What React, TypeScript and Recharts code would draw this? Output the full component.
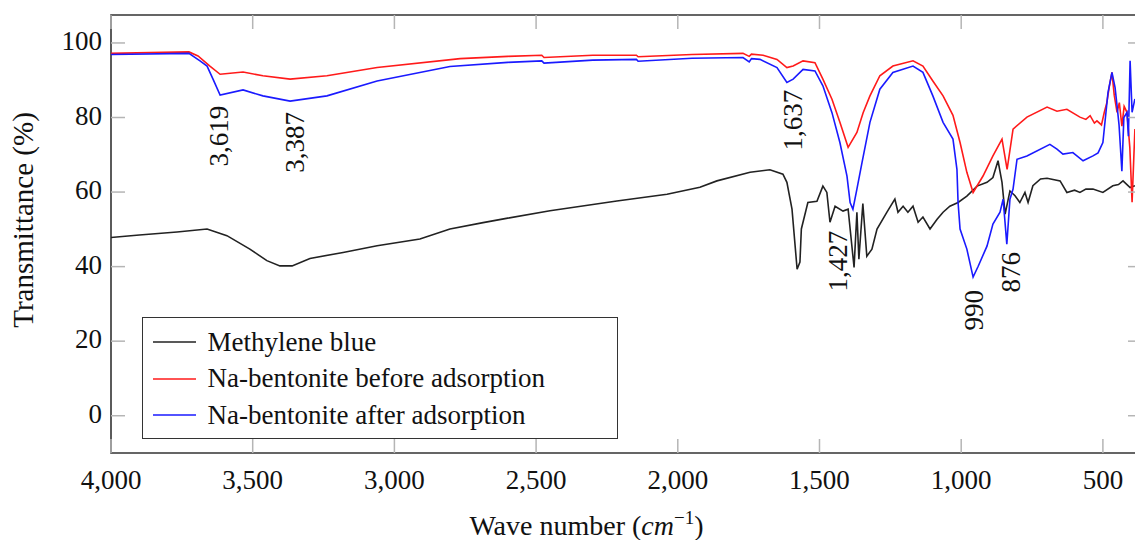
import { LineChart, Line, XAxis, YAxis, Legend, ReferenceArea, ReferenceDot } from "recharts"

const WIDTH = 1150
const HEIGHT = 540
const MARGIN = { top: 15, right: 8, bottom: 0, left: 11 }
const Y_AXIS_WIDTH = 100
const X_AXIS_HEIGHT = 87
const PLOT_TOP = MARGIN.top
const PLOT_BOTTOM = HEIGHT - MARGIN.bottom - X_AXIS_HEIGHT
const PLOT_LEFT = MARGIN.left + Y_AXIS_WIDTH
const PLOT_RIGHT = WIDTH - MARGIN.right
const TICK_LEN = 14
const FONT = '"Liberation Serif", "Times New Roman", serif'
const TEXT = "#111"

const waveDomain = [362, 4000]
const transDomain = [-10, 107.5]
const waveTicks = [4000, 3500, 3000, 2500, 2000, 1500, 1000, 500]
const transTicks = [0, 20, 40, 60, 80, 100]

// Methylene blue
const mbWave = [4000, 3900, 3767, 3661, 3591, 3510, 3450, 3404, 3361, 3298, 3181, 3061, 2910, 2804, 2687, 2600, 2451, 2215, 2038, 1922, 1862, 1745, 1675, 1629, 1615, 1597, 1579, 1569, 1564, 1541, 1509, 1488, 1474, 1463, 1445, 1417, 1399, 1378, 1368, 1361, 1347, 1333, 1315, 1297, 1262, 1234, 1223, 1205, 1188, 1170, 1152, 1135, 1110, 1085, 1064, 1040, 1011, 980, 944, 909, 888, 870, 856, 845, 828, 810, 793, 775, 764, 747, 720, 697, 651, 627, 600, 581, 560, 535, 500, 465, 445, 429, 404, 387]
const mbT = [47.8, 48.5, 49.3, 50.1, 48.3, 44.7, 41.6, 40.2, 40.2, 42.2, 43.8, 45.6, 47.4, 50.1, 51.8, 53.0, 55.0, 57.6, 59.4, 61.3, 63.0, 65.3, 66.0, 64.8, 62.6, 55.4, 39.3, 41.2, 50.1, 57.2, 57.5, 61.6, 59.9, 51.9, 56.2, 54.9, 55.4, 39.8, 54.6, 42.0, 56.9, 42.8, 44.7, 50.1, 54.6, 58.1, 54.6, 56.2, 54.6, 56.2, 51.9, 53.3, 50.1, 52.7, 54.6, 56.2, 57.2, 58.9, 61.6, 62.6, 63.9, 68.4, 62.6, 54.1, 60.3, 59.0, 57.2, 59.9, 57.2, 61.7, 63.5, 63.7, 63.0, 59.9, 60.5, 59.9, 60.8, 60.8, 59.9, 61.7, 62.0, 63.0, 61.2, 61.7]

// Na-bentonite before adsorption
const beforeWave = [4000, 3725, 3693, 3651, 3615, 3534, 3464, 3368, 3238, 3061, 2768, 2600, 2480, 2472, 2300, 2146, 2140, 1950, 1770, 1748, 1740, 1699, 1650, 1615, 1593, 1558, 1516, 1488, 1456, 1428, 1399, 1368, 1346, 1322, 1287, 1241, 1170, 1135, 1100, 1064, 1029, 1004, 980, 958, 923, 888, 856, 838, 817, 768, 697, 662, 627, 581, 560, 545, 530, 521, 505, 495, 486, 478, 468, 460, 450, 442, 433, 425, 415, 405, 397, 387]
const beforeT = [97.2, 97.6, 96.5, 93.8, 91.6, 92.2, 91.2, 90.3, 91.2, 93.4, 95.8, 96.4, 96.7, 96.1, 96.7, 96.7, 96.3, 96.9, 97.2, 96.4, 97.0, 96.7, 95.6, 93.4, 93.8, 95.2, 94.7, 90.3, 84.9, 78.7, 72.0, 76.0, 81.3, 85.8, 91.2, 93.8, 95.2, 93.8, 89.8, 85.8, 80.6, 73.3, 65.3, 59.9, 64.3, 69.7, 74.2, 66.1, 76.9, 80.1, 82.8, 81.7, 82.2, 80.1, 79.5, 80.5, 78.5, 79.1, 78.0, 81.4, 84.0, 88.0, 92.1, 86.0, 81.4, 84.0, 77.7, 83.0, 81.4, 72.0, 57.3, 76.9]

// Na-bentonite after adsorption
const afterWave = [4000, 3725, 3686, 3661, 3640, 3615, 3534, 3464, 3368, 3238, 3061, 2804, 2600, 2480, 2472, 2300, 2146, 2140, 1950, 1770, 1748, 1740, 1710, 1650, 1615, 1593, 1558, 1516, 1488, 1456, 1428, 1403, 1392, 1382, 1368, 1350, 1322, 1287, 1241, 1170, 1135, 1100, 1064, 1029, 1015, 1011, 1004, 980, 958, 940, 909, 888, 863, 852, 839, 828, 817, 803, 768, 687, 662, 641, 606, 570, 535, 517, 500, 482, 468, 457, 450, 443, 433, 426, 415, 410, 404, 397, 387]
const afterT = [96.9, 97.2, 95.2, 93.8, 90.3, 86.0, 87.4, 85.8, 84.4, 85.8, 89.8, 93.7, 94.8, 95.2, 94.6, 95.4, 95.6, 95.1, 95.9, 96.1, 94.9, 95.8, 95.6, 93.4, 89.4, 90.3, 92.9, 92.5, 88.5, 81.3, 73.3, 64.3, 57.2, 55.4, 60.8, 67.9, 78.7, 87.6, 92.1, 93.8, 92.1, 85.8, 78.7, 74.2, 66.1, 57.2, 50.1, 44.7, 37.2, 40.1, 45.5, 51.4, 54.6, 58.1, 46.0, 58.1, 60.8, 68.8, 69.7, 72.8, 71.5, 70.2, 70.6, 68.4, 69.7, 70.5, 73.3, 86.7, 92.1, 88.0, 83.1, 78.0, 65.6, 80.0, 81.4, 75.0, 95.2, 81.4, 85.0]

const seriesNames = ["Methylene blue", "Na-bentonite before adsorption", "Na-bentonite after adsorption"]
const seriesColors = ["#222222", "#ff1a1a", "#1a1aff"]

// peak annotations (text, anchor wavenumber, anchor transmittance)
const peakText = ["3,619", "3,387", "1,637", "1,427", "990", "876"]
const peakWave = [3619, 3351, 1594, 1435, 955, 824]
const peakT = [75.0, 73.3, 79.3, 41.5, 28.3, 38.5]

const toPoints = (w: number[], t: number[]) => w.map((x, i) => ({ x, y: t[i] }))
const seriesData = [toPoints(mbWave, mbT), toPoints(beforeWave, beforeT), toPoints(afterWave, afterT)]

const fmt = (v: number) => v.toLocaleString("en-US")

function WaveTick({ x, y, payload }: any) {
  return (
    <g>
      <line x1={x} x2={x} y1={PLOT_BOTTOM} y2={PLOT_BOTTOM - TICK_LEN} stroke="#b5b5b5" strokeWidth={1.5} />
      <line x1={x} x2={x} y1={PLOT_TOP} y2={PLOT_TOP + TICK_LEN} stroke="#b5b5b5" strokeWidth={1.5} />
      <text x={x} y={y + 36} textAnchor="middle" fontFamily={FONT} fontSize={27} fill={TEXT}>
        {fmt(payload.value)}
      </text>
    </g>
  )
}

function TransTick({ x, y, payload }: any) {
  return (
    <g>
      <line x1={PLOT_LEFT} x2={PLOT_LEFT + TICK_LEN} y1={y} y2={y} stroke="#b5b5b5" strokeWidth={1.5} />
      <line x1={PLOT_RIGHT} x2={PLOT_RIGHT - TICK_LEN} y1={y} y2={y} stroke="#b5b5b5" strokeWidth={1.5} />
      <text x={x - 9} y={y + 7} textAnchor="end" fontFamily={FONT} fontSize={27} fill={TEXT}>
        {payload.value}
      </text>
    </g>
  )
}

function XTitle({ viewBox }: any) {
  const cx = viewBox.x + viewBox.width / 2 - 40
  return (
    <text x={cx} y={viewBox.y + 82} textAnchor="middle" fontFamily={FONT} fontSize={28} fill={TEXT}>
      Wave number (<tspan fontStyle="italic">cm</tspan>
      <tspan dy={-11} fontSize={19}>−1</tspan>
      <tspan dy={11}>)</tspan>
    </text>
  )
}

function YTitle({ viewBox }: any) {
  const cx = viewBox.x + 12
  const cy = viewBox.y + viewBox.height / 2 - 14
  return (
    <text
      x={cx}
      y={cy}
      transform={`rotate(-90 ${cx} ${cy})`}
      textAnchor="middle"
      dominantBaseline="central"
      fontFamily={FONT}
      fontSize={29}
      fill={TEXT}
    >
      Transmittance (%)
    </text>
  )
}

function PeakLabel({ cx, cy, text }: any) {
  return (
    <text
      x={cx}
      y={cy}
      transform={`rotate(-90 ${cx} ${cy})`}
      textAnchor="middle"
      dominantBaseline="central"
      fontFamily={FONT}
      fontSize={27}
      fill={TEXT}
    >
      {text}
    </text>
  )
}

function SpectraLegend() {
  return (
    <div
      style={{
        width: 476,
        height: 122,
        boxSizing: "border-box",
        border: "1.6px solid #333",
        background: "#fff",
        paddingTop: 6,
      }}
    >
      {seriesNames.map((name, i) => (
        <div key={name} style={{ display: "flex", alignItems: "center", height: 36.5 }}>
          <svg width={43} height={4} style={{ marginLeft: 9.5 }}>
            <line x1={0} x2={43} y1={2} y2={2} stroke={seriesColors[i]} strokeWidth={1.6} />
          </svg>
          <span style={{ marginLeft: 12, fontFamily: FONT, fontSize: 27, lineHeight: 1, color: TEXT }}>{name}</span>
        </div>
      ))}
    </div>
  )
}

export default function App() {
  return (
    <div style={{ position: "absolute", left: 0, top: 0, width: 1135, height: 540, overflow: "hidden", background: "#fff" }}>
      <LineChart width={WIDTH} height={HEIGHT} margin={MARGIN}>
        <XAxis
          type="number"
          dataKey="x"
          domain={waveDomain}
          ticks={waveTicks}
          reversed
          allowDataOverflow
          height={X_AXIS_HEIGHT}
          tickSize={0}
          tickMargin={0}
          tickLine={false}
          axisLine={false}
          tick={<WaveTick />}
          interval={0}
          label={{ content: (p: any) => <XTitle viewBox={p.viewBox} /> }}
        />
        <YAxis
          type="number"
          domain={transDomain}
          ticks={transTicks}
          allowDataOverflow
          width={Y_AXIS_WIDTH}
          tickSize={0}
          tickMargin={0}
          tickLine={false}
          axisLine={false}
          tick={<TransTick />}
          interval={0}
          label={{ content: (p: any) => <YTitle viewBox={p.viewBox} /> }}
        />
        <ReferenceArea
          x1={waveDomain[0]}
          x2={waveDomain[1]}
          y1={transDomain[0]}
          y2={transDomain[1]}
          fill="none"
          stroke="#333"
          strokeWidth={1.6}
          ifOverflow="visible"
        />
        {seriesData.map((data, i) => (
          <Line
            key={seriesNames[i]}
            data={data}
            dataKey="y"
            name={seriesNames[i]}
            type="linear"
            stroke={seriesColors[i]}
            strokeWidth={1.6}
            dot={false}
            activeDot={false}
            isAnimationActive={false}
          />
        ))}
        {peakText.map((t, i) => (
          <ReferenceDot
            key={t}
            x={peakWave[i]}
            y={peakT[i]}
            r={0}
            ifOverflow="visible"
            shape={(p: any) => <PeakLabel cx={p.cx} cy={p.cy} text={t} />}
          />
        ))}
        <Legend
          layout="vertical"
          align="center"
          verticalAlign="middle"
          content={() => <SpectraLegend />}
          wrapperStyle={{ left: 142, top: 317, width: 476, height: 122 }}
        />
      </LineChart>
    </div>
  )
}
